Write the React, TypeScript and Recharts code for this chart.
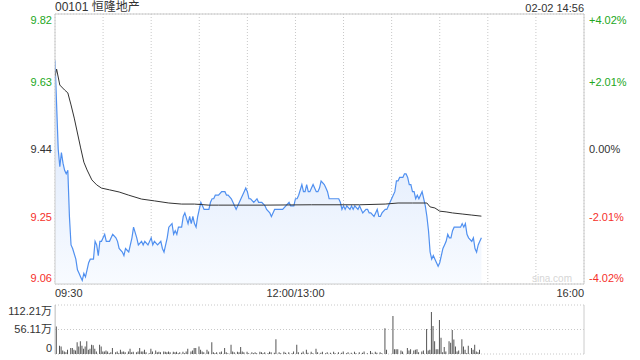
import React from "react";
import {
  ComposedChart,
  BarChart,
  Area,
  Line,
  Bar,
  XAxis,
  YAxis,
  CartesianGrid,
  ReferenceLine,
} from "recharts";

const stockName = "00101 恒隆地产";
const stamp = "02-02 14:56";
const prevClose = 9.44;

const priceTicks = [9.06, 9.25, 9.44, 9.63, 9.82];
const pctTicks = [-4.02, -2.01, 0, 2.01, 4.02];
const volTicks = [0, 56.11, 112.21];
const timeTicks = [0, 30, 60, 90, 120, 150, 180, 210, 240, 270, 300, 330];
const timeLabels: Record<number, string> = { 0: "09:30", 150: "12:00/13:00", 330: "16:00" };

// minutes after 09:30 (lunch break removed)
const priceMinutes = [
  0, 2, 3, 4, 5, 6, 7, 8, 9, 10, 11, 13, 14, 15, 16, 17, 18, 19, 20, 21, 22, 24, 25, 26, 27, 28, 29, 30,
  31, 32, 34, 35, 36, 38, 39, 40, 42, 43, 44, 46, 47, 48, 49, 51, 52, 54, 55, 56, 58, 60, 61, 62, 64, 66,
  67, 68, 70, 71, 73, 74, 75, 76, 77, 79, 80, 81, 83, 84, 85, 86, 87, 88, 89, 90, 91, 93, 94, 96, 97, 98,
  99, 100, 102, 104, 106, 107, 108, 110, 111, 113, 114, 115, 116, 118, 119, 120, 121, 122, 124, 126, 127,
  129, 131, 132, 134, 135, 136, 137, 139, 141, 142, 144, 146, 147, 148, 149, 150, 151, 152, 154, 155, 156,
  157, 158, 159, 160, 161, 163, 164, 165, 166, 168, 169, 170, 171, 172, 174, 175, 176, 177, 178, 179, 180,
  181, 182, 184, 185, 186, 187, 189, 190, 191, 192, 194, 195, 196, 197, 199, 200, 201, 202, 203, 204, 206,
  207, 209, 210, 212, 213, 214, 215, 217, 218, 219, 220, 221, 222, 223, 224, 225, 226, 227, 229, 230, 231,
  232, 233, 234, 235, 236, 237, 238, 239, 240, 241, 242, 243, 244, 245, 246, 247, 248, 249, 250, 252, 253,
  254, 255, 256, 257, 258, 260, 261, 262, 263, 264, 265, 266,
];
const priceValues = [
  9.69, 9.44, 9.39, 9.43, 9.4, 9.38, 9.37, 9.38, 9.25, 9.17, 9.16, 9.13, 9.1, 9.09, 9.08, 9.07, 9.09, 9.08,
  9.1, 9.12, 9.13, 9.13, 9.18, 9.17, 9.14, 9.18, 9.18, 9.19, 9.2, 9.18, 9.18, 9.19, 9.2, 9.19, 9.18, 9.16,
  9.15, 9.14, 9.16, 9.15, 9.17, 9.19, 9.22, 9.19, 9.17, 9.18, 9.17, 9.18, 9.17, 9.19, 9.17, 9.18, 9.17,
  9.18, 9.16, 9.15, 9.19, 9.22, 9.23, 9.2, 9.21, 9.2, 9.22, 9.22, 9.25, 9.26, 9.23, 9.25, 9.23, 9.25, 9.23,
  9.22, 9.25, 9.27, 9.29, 9.27, 9.27, 9.27, 9.29, 9.3, 9.3, 9.31, 9.31, 9.32, 9.32, 9.31, 9.31, 9.3, 9.29,
  9.27, 9.28, 9.29, 9.3, 9.32, 9.33, 9.32, 9.3, 9.3, 9.29, 9.3, 9.29, 9.29, 9.28, 9.27, 9.26, 9.25, 9.26,
  9.27, 9.27, 9.27, 9.27, 9.28, 9.29, 9.28, 9.28, 9.28, 9.3, 9.3, 9.31, 9.34, 9.32, 9.32, 9.34, 9.32, 9.32,
  9.33, 9.34, 9.32, 9.32, 9.33, 9.35, 9.34, 9.33, 9.32, 9.3, 9.3, 9.3, 9.3, 9.3, 9.3, 9.29, 9.27, 9.28,
  9.27, 9.28, 9.27, 9.28, 9.27, 9.28, 9.27, 9.28, 9.27, 9.26, 9.27, 9.27, 9.26, 9.26, 9.25, 9.26, 9.27,
  9.25, 9.25, 9.26, 9.27, 9.27, 9.29, 9.3, 9.32, 9.35, 9.35, 9.36, 9.36, 9.37, 9.37, 9.36, 9.34, 9.34,
  9.32, 9.32, 9.3, 9.31, 9.3, 9.32, 9.3, 9.28, 9.25, 9.21, 9.15, 9.13, 9.14, 9.13, 9.12, 9.11, 9.12, 9.14,
  9.16, 9.17, 9.18, 9.2, 9.19, 9.19, 9.21, 9.22, 9.22, 9.22, 9.22, 9.23, 9.22, 9.23, 9.2, 9.19, 9.18, 9.19,
  9.16, 9.15, 9.17, 9.18, 9.19,
];

const avgMinutes = [
  0, 1, 3, 6, 8, 10, 12, 14, 16, 18, 20, 23, 26, 29, 34, 40, 46, 54, 62, 71, 79, 87, 96, 102, 130, 160,
  190, 206, 214, 223, 232, 234, 237, 240, 244, 248, 254, 260, 266,
];
const avgValues = [
  9.645, 9.665, 9.62, 9.606, 9.598, 9.564, 9.527, 9.485, 9.443, 9.403, 9.381, 9.353, 9.339, 9.33, 9.325,
  9.319, 9.31, 9.299, 9.294, 9.288, 9.285, 9.285, 9.282, 9.282, 9.282, 9.283, 9.283, 9.285, 9.288, 9.288,
  9.288, 9.277, 9.274, 9.265, 9.263, 9.26, 9.257, 9.254, 9.251,
];

// volume, 万股
const volMinutes = [
  0, 1, 3, 4, 5, 6, 7, 8, 10, 11, 12, 13, 14, 15, 16, 17, 18, 19, 20, 21, 22, 23, 24, 25, 26, 28, 29, 30,
  31, 32, 33, 34, 35, 36, 38, 39, 40, 41, 42, 43, 44, 46, 47, 48, 49, 51, 52, 53, 54, 55, 56, 57, 59, 60,
  61, 63, 64, 65, 66, 68, 69, 70, 71, 72, 74, 75, 76, 77, 78, 80, 81, 82, 83, 85, 86, 87, 88, 90, 91, 92,
  93, 95, 96, 98, 99, 100, 101, 103, 104, 106, 107, 108, 110, 111, 112, 114, 115, 116, 117, 118, 120, 121,
  123, 124, 125, 126, 128, 129, 130, 131, 133, 134, 135, 137, 138, 140, 141, 143, 144, 146, 148, 149, 151,
  152, 154, 155, 157, 158, 160, 161, 163, 164, 166, 167, 169, 170, 172, 174, 175, 177, 179, 180, 182, 183,
  185, 187, 188, 190, 192, 193, 195, 197, 198, 200, 201, 203, 204, 206, 207, 211, 212, 213, 214, 216, 217,
  220, 221, 222, 224, 225, 226, 227, 229, 230, 232, 233, 234, 235, 236, 237, 238, 239, 240, 241, 242, 243,
  244, 246, 247, 248, 249, 250, 251, 252, 254, 255, 256, 257, 258, 260, 261, 262, 263, 264, 265,
];
const volValues = [
  112.21, 63, 19, 17, 8, 6, 4, 10, 14, 14, 10, 8, 27, 17, 29, 19, 12, 17, 29, 10, 12, 21, 20, 12, 6, 21,
  17, 6, 6, 8, 6, 2, 4, 14, 4, 6, 2, 10, 5, 6, 4, 6, 12, 4, 5, 4, 6, 14, 6, 6, 10, 4, 2, 12, 6, 8, 4, 5, 4,
  6, 5, 4, 6, 4, 5, 4, 5, 2, 4, 5, 2, 6, 12, 6, 8, 14, 14, 17, 10, 6, 4, 10, 6, 27, 4, 2, 4, 4, 6, 14, 4,
  2, 21, 6, 4, 5, 4, 16, 6, 4, 5, 2, 4, 2, 4, 2, 5, 4, 2, 4, 2, 5, 4, 3, 34, 4, 2, 5, 3, 4, 2, 6, 21, 4, 3,
  6, 10, 3, 5, 2, 12, 4, 3, 5, 2, 4, 3, 5, 2, 4, 3, 6, 2, 4, 3, 5, 2, 4, 3, 6, 2, 7, 3, 5, 3, 4, 2, 59, 10,
  87, 11, 11, 11, 8, 6, 14, 8, 11, 8, 10, 11, 4, 6, 8, 57, 8, 10, 96, 64, 29, 11, 11, 78, 37, 4, 16, 6, 29,
  26, 55, 33, 17, 6, 8, 34, 17, 10, 2, 19, 14, 10, 21, 6, 4, 10,
];

const mins = Array.from(new Set([...priceMinutes, ...avgMinutes])).sort((a, b) => a - b);
const lineData = mins.map((t) => {
  const pi = priceMinutes.indexOf(t);
  const ai = avgMinutes.indexOf(t);
  return { t, price: pi >= 0 ? priceValues[pi] : null, avg: ai >= 0 ? avgValues[ai] : null };
});
const volData = volMinutes.map((t, i) => ({ t, vol: volValues[i] }));

const font = "'Liberation Sans', Arial, 'Noto Sans CJK SC', sans-serif";
const green = "#22a722";
const red = "#f5302a";
const grey = "#cccccc";

const colorFor = (diff: number) => (diff > 1e-6 ? green : diff < -1e-6 ? red : "#333");

const edgeDy = (v: number, list: number[]) =>
  v === list[list.length - 1] ? 10 : v === list[0] ? -2 : 4;

const PriceTick = (props: any) => {
  const { x, y, payload } = props;
  const v = payload.value;
  return (
    <text x={x} y={y} dy={edgeDy(v, priceTicks)} textAnchor="end" fill={colorFor(v - prevClose)} fontSize={11} fontFamily={font}>
      {v.toFixed(2)}
    </text>
  );
};

const PctTick = (props: any) => {
  const { x, y, payload } = props;
  const v = payload.value;
  const label = (v > 0 ? "+" : "") + v.toFixed(2) + "%";
  return (
    <text x={x} y={y} dy={edgeDy(v, pctTicks)} textAnchor="start" fill={colorFor(v)} fontSize={11} fontFamily={font}>
      {label}
    </text>
  );
};

const TimeTick = (props: any) => {
  const { x, y, payload } = props;
  const label = timeLabels[payload.value];
  if (!label) return <g />;
  const anchor = payload.value === 0 ? "start" : payload.value === 330 ? "end" : "middle";
  return (
    <text x={x} y={y} dy={13} textAnchor={anchor} fill="#333" fontSize={11} fontFamily={font}>
      {label}
    </text>
  );
};

const VolTick = (props: any) => {
  const { x, y, payload } = props;
  const v = payload.value;
  return (
    <text x={x} y={y} dy={edgeDy(v, volTicks)} textAnchor="end" fill="#333" fontSize={11} fontFamily={font}>
      {v === 0 ? "0" : v.toFixed(2) + "万"}
    </text>
  );
};

export default function App() {
  return (
    <div style={{ position: "absolute", left: 0, top: 0, width: 640, height: 360, background: "#fff", fontFamily: font }}>
      <div style={{ position: "absolute", left: 55, top: 0, fontSize: 12, lineHeight: "14px", color: "#333" }}>{stockName}</div>
      <div style={{ position: "absolute", right: 56, top: 1, fontSize: 11, lineHeight: "14px", color: "#333" }}>{stamp}</div>

      <div style={{ position: "absolute", left: 0, top: 0 }}>
        <ComposedChart width={640} height={300} data={lineData} margin={{ top: 14, right: 0, bottom: 0, left: 0 }}>
          <defs>
            <linearGradient id="priceFill" x1="0" y1="0" x2="0" y2="1">
              <stop offset="0%" stopColor="#d5e3fb" />
              <stop offset="100%" stopColor="#f8fbff" />
            </linearGradient>
          </defs>
          <CartesianGrid stroke="#c8c8c8" strokeDasharray="1 2" />
          <XAxis
            dataKey="t"
            type="number"
            domain={[0, 330]}
            ticks={timeTicks}
            interval={0}
            height={16}
            tick={<TimeTick />}
            tickLine={false}
            tickSize={0}
            tickMargin={0}
            axisLine={{ stroke: grey }}
            allowDataOverflow
          />
          <YAxis
            yAxisId="p"
            orientation="left"
            width={55}
            domain={[9.06, 9.82]}
            ticks={priceTicks}
            interval={0}
            tick={<PriceTick />}
            tickLine={false}
            tickSize={0}
            tickMargin={3}
            axisLine={{ stroke: grey }}
            allowDataOverflow
          />
          <YAxis
            yAxisId="r"
            orientation="right"
            width={56}
            domain={[-4.02, 4.02]}
            ticks={pctTicks}
            interval={0}
            tick={<PctTick />}
            tickLine={false}
            tickSize={0}
            tickMargin={5}
            axisLine={{ stroke: grey }}
            allowDataOverflow
          />
          <ReferenceLine yAxisId="p" y={9.82} stroke={grey} />
          <Area
            yAxisId="p"
            type="linear"
            dataKey="price"
            stroke="#5090f0"
            strokeWidth={1.2}
            fill="url(#priceFill)"
            fillOpacity={1}
            connectNulls
            dot={false}
            activeDot={false}
            isAnimationActive={false}
          />
          <Line
            yAxisId="p"
            type="linear"
            dataKey="avg"
            stroke="#333"
            strokeWidth={1}
            connectNulls
            dot={false}
            activeDot={false}
            isAnimationActive={false}
          />
        </ComposedChart>
      </div>

      <div style={{ position: "absolute", left: 532, top: 273, fontSize: 10, color: "#d6d6d6" }}>sina.com</div>

      <div style={{ position: "absolute", left: 0, top: 298 }}>
        <BarChart width={640} height={60} data={volData} margin={{ top: 7, right: 56, bottom: 4, left: 0 }}>
          <CartesianGrid stroke="#c8c8c8" strokeDasharray="1 2" vertical={false} />
          <XAxis
            dataKey="t"
            type="number"
            domain={[0, 330]}
            height={0}
            tick={false}
            tickLine={false}
            axisLine={{ stroke: grey }}
            allowDataOverflow
          />
          <YAxis
            width={55}
            domain={[0, 112.21]}
            ticks={volTicks}
            interval={0}
            tick={<VolTick />}
            tickLine={false}
            tickSize={0}
            tickMargin={3}
            axisLine={{ stroke: grey }}
            allowDataOverflow
          />
          <ReferenceLine x={330} stroke={grey} />
          <Bar dataKey="vol" fill="#555" barSize={1} isAnimationActive={false} />
        </BarChart>
      </div>
    </div>
  );
}
